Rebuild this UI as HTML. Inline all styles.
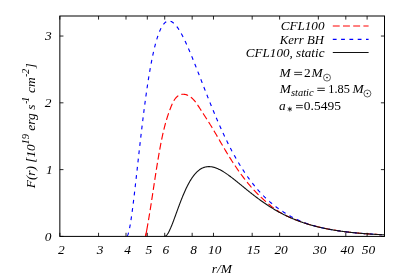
<!DOCTYPE html>
<html><head><meta charset="utf-8"><title>F(r) vs r/M</title>
<style>
html,body{margin:0;padding:0;background:#fff;}
body{width:399px;height:279px;overflow:hidden;position:relative;font-family:"Liberation Serif",serif;}
</style></head><body>
<div style="position:absolute;left:0;top:0;width:399px;height:279px;will-change:transform">
<svg width="399" height="279" viewBox="0 0 399 279" style="position:absolute;left:0;top:0">
<rect x="0" y="0" width="399" height="279" fill="#fff"/>
<filter id="gaa" filterUnits="userSpaceOnUse" x="0" y="0" width="399" height="279"><feOffset dx="0" dy="0"/></filter>
<clipPath id="c"><rect x="59.85" y="16.0" width="324.65" height="220.4"/></clipPath>
<g clip-path="url(#c)" fill="none" stroke-linejoin="round">
<path d="M145.75,236.40 L145.75,235.36 L145.87,234.77 L145.98,234.18 L146.09,233.58 L146.20,232.99 L146.32,232.40 L146.43,231.81 L146.54,231.21 L146.65,230.62 L146.76,230.03 L146.87,229.43 L146.97,228.84 L147.08,228.24 L147.19,227.65 L147.30,227.05 L147.40,226.46 L147.51,225.86 L147.61,225.27 L147.72,224.67 L147.82,224.07 L147.93,223.48 L148.03,222.88 L148.13,222.28 L148.24,221.69 L148.34,221.09 L148.44,220.49 L148.54,219.90 L148.64,219.30 L148.74,218.70 L148.84,218.10 L148.94,217.50 L149.04,216.91 L149.14,216.31 L149.24,215.71 L149.34,215.11 L149.44,214.51 L149.53,213.91 L149.63,213.31 L149.73,212.71 L149.83,212.11 L149.92,211.51 L150.02,210.91 L150.11,210.31 L150.21,209.71 L150.31,209.11 L150.40,208.51 L150.50,207.91 L150.59,207.31 L150.68,206.71 L150.78,206.11 L150.87,205.51 L150.97,204.91 L151.06,204.31 L151.15,203.71 L151.25,203.11 L151.34,202.51 L151.43,201.91 L151.52,201.30 L151.62,200.70 L151.71,200.10 L151.80,199.50 L151.89,198.90 L151.99,198.30 L152.08,197.70 L152.17,197.09 L152.26,196.49 L152.35,195.89 L152.44,195.29 L152.53,194.69 L152.63,194.08 L152.72,193.48 L152.81,192.88 L152.90,192.28 L152.99,191.68 L153.08,191.08 L153.17,190.47 L153.26,189.87 L153.35,189.27 L153.44,188.67 L153.53,188.07 L153.63,187.46 L153.72,186.86 L153.81,186.26 L153.90,185.66 L153.99,185.06 L154.08,184.46 L154.17,183.85 L154.26,183.25 L154.35,182.65 L154.45,182.05 L154.54,181.45 L154.63,180.85 L154.72,180.24 L154.81,179.64 L154.90,179.04 L154.99,178.44 L155.09,177.84 L155.18,177.24 L155.27,176.64 L155.36,176.04 L155.46,175.44 L155.55,174.84 L155.64,174.23 L155.74,173.63 L155.83,173.03 L155.92,172.43 L156.02,171.83 L156.11,171.23 L156.21,170.63 L156.30,170.03 L156.39,169.43 L156.49,168.84 L156.58,168.24 L156.68,167.64 L156.78,167.04 L156.87,166.44 L156.97,165.84 L157.07,165.24 L157.16,164.64 L157.26,164.04 L157.36,163.45 L157.46,162.85 L157.55,162.25 L157.65,161.65 L157.75,161.06 L157.85,160.46 L157.95,159.86 L158.05,159.26 L158.15,158.67 L158.25,158.07 L158.35,157.47 L158.45,156.88 L158.56,156.28 L158.66,155.69 L158.76,155.09 L158.86,154.50 L158.97,153.90 L159.07,153.31 L159.18,152.71 L159.28,152.12 L159.39,151.52 L159.49,150.93 L159.60,150.34 L159.71,149.74 L159.82,149.15 L159.92,148.56 L160.03,147.96 L160.14,147.37 L160.25,146.78 L160.36,146.19 L160.47,145.60 L160.58,145.01 L160.70,144.41 L160.81,143.82 L160.92,143.23 L161.04,142.64 L161.15,142.05 L161.27,141.46 L161.39,140.87 L161.50,140.28 L161.62,139.69 L161.74,139.10 L161.86,138.52 L161.99,137.93 L162.11,137.34 L162.23,136.75 L162.36,136.16 L162.49,135.57 L162.61,134.98 L162.74,134.40 L162.87,133.81 L163.01,133.22 L163.14,132.63 L163.28,132.04 L163.41,131.46 L163.55,130.87 L163.69,130.28 L163.83,129.69 L163.98,129.11 L164.12,128.52 L164.27,127.93 L164.42,127.34 L164.57,126.76 L164.72,126.17 L164.87,125.58 L165.03,124.99 L165.19,124.41 L165.35,123.82 L165.51,123.23 L165.67,122.64 L165.84,122.06 L166.01,121.47 L166.18,120.88 L166.35,120.29 L166.53,119.71 L166.71,119.12 L166.89,118.53 L167.07,117.94 L167.26,117.35 L167.44,116.76 L167.63,116.18 L167.83,115.59 L168.02,115.00 L168.22,114.41 L168.42,113.82 L168.62,113.23 L168.83,112.64 L169.04,112.05 L169.25,111.46 L169.46,110.87 L169.68,110.28 L169.90,109.69 L170.13,109.10 L170.35,108.51 L170.58,107.92 L170.81,107.32 L171.05,106.73 L171.29,106.14 L171.53,105.55 L171.78,104.96 L172.03,104.38 L172.29,103.80 L172.56,103.22 L172.83,102.65 L173.11,102.10 L173.40,101.55 L173.69,101.01 L174.00,100.48 L174.31,99.97 L174.64,99.47 L174.98,98.98 L175.33,98.51 L175.69,98.06 L176.07,97.63 L176.46,97.22 L176.86,96.83 L177.28,96.46 L177.71,96.12 L178.16,95.80 L178.63,95.51 L179.11,95.24 L179.62,95.01 L180.14,94.80 L180.67,94.62 L181.22,94.48 L181.77,94.37 L182.34,94.29 L182.91,94.25 L183.68,94.26 L184.26,94.31 L184.84,94.40 L185.42,94.52 L185.99,94.67 L186.56,94.85 L187.12,95.06 L187.67,95.29 L188.21,95.54 L188.74,95.82 L189.26,96.12 L189.76,96.43 L190.25,96.77 L190.73,97.12 L191.20,97.49 L191.67,97.87 L192.12,98.27 L192.56,98.69 L192.99,99.12 L193.42,99.56 L193.84,100.01 L194.25,100.48 L194.65,100.95 L195.04,101.44 L195.43,101.93 L195.82,102.43 L196.19,102.94 L196.57,103.45 L196.93,103.97 L197.30,104.50 L197.66,105.03 L198.01,105.56 L198.36,106.09 L198.71,106.62 L199.06,107.16 L199.40,107.69 L199.75,108.22 L200.09,108.75 L200.43,109.28 L200.77,109.81 L201.11,110.33 L201.44,110.85 L201.78,111.37 L202.11,111.89 L202.45,112.40 L202.78,112.92 L203.11,113.43 L203.44,113.94 L203.77,114.45 L204.10,114.96 L204.43,115.46 L204.76,115.97 L205.08,116.47 L205.41,116.98 L205.73,117.48 L206.05,117.98 L206.38,118.49 L206.70,118.99 L207.02,119.49 L207.34,119.99 L207.66,120.49 L207.98,120.99 L208.29,121.49 L208.61,121.99 L208.93,122.50 L209.24,123.00 L209.56,123.50 L209.87,124.00 L210.18,124.51 L210.50,125.01 L210.81,125.52 L211.12,126.03 L211.43,126.54 L211.74,127.05 L212.05,127.56 L212.36,128.07 L212.66,128.58 L212.97,129.10 L213.28,129.61 L213.59,130.13 L213.89,130.65 L214.20,131.16 L214.50,131.68 L214.81,132.20 L215.11,132.72 L215.42,133.24 L215.72,133.76 L216.03,134.29 L216.33,134.81 L216.64,135.33 L216.94,135.86 L217.24,136.38 L217.55,136.90 L217.85,137.43 L218.15,137.96 L218.46,138.48 L218.76,139.01 L219.07,139.53 L219.37,140.06 L219.67,140.59 L219.98,141.11 L220.28,141.64 L220.59,142.17 L220.89,142.69 L221.20,143.22 L221.50,143.75 L221.81,144.28 L222.12,144.80 L222.42,145.33 L222.73,145.86 L223.04,146.38 L223.35,146.91 L223.66,147.43 L223.97,147.96 L224.28,148.48 L224.59,149.01 L224.90,149.53 L225.21,150.06 L225.53,150.58 L225.84,151.10 L226.15,151.63 L226.47,152.15 L226.78,152.67 L227.10,153.19 L227.42,153.71 L227.73,154.23 L228.05,154.75 L228.37,155.27 L228.69,155.79 L229.01,156.31 L229.33,156.83 L229.65,157.35 L229.98,157.86 L230.30,158.38 L230.63,158.89 L230.95,159.41 L231.28,159.92 L231.60,160.44 L231.93,160.95 L232.26,161.46 L232.59,161.97 L232.92,162.48 L233.25,162.99 L233.59,163.50 L233.92,164.01 L234.26,164.52 L234.59,165.02 L234.93,165.53 L235.27,166.04 L235.61,166.54 L235.95,167.04 L236.29,167.55 L236.63,168.05 L236.97,168.55 L237.32,169.05 L237.66,169.55 L238.01,170.05 L238.36,170.54 L238.71,171.04 L239.06,171.53 L239.41,172.03 L239.76,172.52 L240.12,173.01 L240.47,173.50 L240.83,173.99 L241.19,174.48 L241.54,174.97 L241.90,175.46 L242.27,175.94 L242.63,176.43 L242.99,176.91 L243.36,177.39 L243.73,177.87 L244.09,178.35 L244.46,178.83 L244.84,179.31 L245.21,179.78 L245.58,180.26 L245.96,180.73 L246.33,181.20 L246.71,181.67 L247.09,182.14 L247.47,182.61 L247.86,183.08 L248.24,183.54 L248.63,184.01 L249.02,184.47 L249.40,184.93 L249.80,185.39 L250.19,185.85 L250.58,186.31 L250.98,186.76 L251.37,187.22 L251.77,187.67 L252.17,188.12 L252.58,188.57 L252.98,189.02 L253.39,189.46 L253.79,189.91 L254.20,190.35 L254.61,190.79 L255.02,191.23 L255.44,191.67 L255.86,192.11 L256.27,192.54 L256.69,192.98 L257.11,193.41 L257.54,193.84 L257.96,194.27 L258.39,194.69 L258.82,195.12 L259.25,195.54 L259.68,195.96 L260.12,196.38 L260.56,196.80 L260.99,197.21 L261.43,197.63 L261.88,198.04 L262.32,198.45 L262.77,198.86 L263.22,199.27 L263.67,199.69 L264.12,200.10 L264.58,200.51 L265.03,200.92 L265.49,201.33 L265.95,201.73 L266.42,202.14 L266.88,202.55 L267.35,202.95 L267.82,203.35 L268.29,203.75 L268.76,204.14 L269.24,204.54 L269.72,204.93 L270.20,205.32 L270.68,205.71 L271.17,206.09 L271.65,206.47 L272.14,206.85 L272.64,207.22 L273.13,207.59 L273.63,207.96 L274.13,208.32 L274.63,208.68 L275.13,209.04 L275.64,209.39 L276.14,209.74 L276.66,210.09 L277.17,210.43 L277.68,210.77 L278.20,211.10 L278.77,211.88 L279.21,212.12 L279.65,212.36 L280.09,212.59 L280.53,212.82 L280.97,213.06 L281.41,213.29 L281.85,213.51 L282.29,213.74 L282.73,213.96 L283.16,214.19 L283.60,214.41 L284.04,214.63 L284.48,214.84 L284.92,215.06 L285.36,215.27 L285.80,215.48 L286.24,215.69 L286.68,215.90 L287.12,216.11 L287.56,216.31 L288.00,216.52 L288.44,216.72 L288.88,216.92 L289.32,217.12 L289.76,217.32 L290.20,217.51 L290.64,217.70 L291.08,217.90 L291.52,218.09 L291.96,218.27 L292.40,218.46 L292.84,218.65 L293.28,218.83 L293.72,219.01 L294.16,219.19 L294.60,219.37 L295.04,219.55 L295.48,219.72 L295.92,219.90 L296.36,220.07 L296.80,220.24 L297.24,220.41 L297.68,220.58 L298.12,220.75 L298.56,220.91 L298.99,221.08 L299.43,221.24 L299.87,221.40 L300.39,221.59 L300.90,221.77 L301.41,221.95 L301.93,222.13 L302.44,222.31 L302.95,222.49 L303.47,222.66 L303.98,222.83 L304.49,223.00 L305.00,223.17 L305.52,223.34 L306.03,223.50 L306.54,223.67 L307.06,223.83 L307.57,223.99 L308.08,224.14 L308.60,224.30 L309.11,224.45 L309.62,224.61 L310.13,224.76 L310.65,224.90 L311.16,225.05 L311.67,225.20 L312.19,225.34 L312.70,225.48 L313.21,225.62 L313.73,225.76 L314.24,225.90 L314.75,226.03 L315.26,226.17 L315.78,226.30 L316.29,226.43 L316.80,226.56 L317.32,226.69 L317.83,226.81 L318.34,226.94 L318.86,227.06 L319.37,227.18 L319.88,227.30 L320.39,227.42 L320.91,227.54 L321.42,227.65 L321.93,227.77 L322.45,227.88 L322.96,227.99 L323.47,228.10 L323.99,228.21 L324.50,228.32 L325.01,228.43 L325.52,228.53 L326.04,228.63 L326.55,228.74 L327.06,228.84 L327.58,228.94 L328.09,229.04 L328.60,229.14 L329.12,229.23 L329.63,229.33 L330.14,229.42 L330.65,229.51 L331.17,229.61 L331.68,229.70 L332.19,229.79 L332.71,229.87 L333.22,229.96 L333.81,230.06 L334.39,230.16 L334.98,230.25 L335.56,230.35 L336.15,230.44 L336.74,230.53 L337.32,230.62 L337.91,230.71 L338.50,230.80 L339.08,230.88 L339.67,230.97 L340.25,231.05 L340.84,231.14 L341.43,231.22 L342.01,231.30 L342.60,231.38 L343.19,231.45 L343.77,231.53 L344.36,231.61 L344.95,231.68 L345.53,231.75 L346.12,231.83 L346.70,231.90 L347.29,231.97 L347.88,232.04 L348.46,232.11 L349.05,232.17 L349.64,232.24 L350.22,232.30 L350.81,232.37 L351.39,232.43 L351.98,232.49 L352.57,232.56 L353.15,232.62 L353.74,232.68 L354.33,232.73 L354.91,232.79 L355.50,232.85 L356.08,232.91 L356.67,232.96 L357.26,233.01 L357.84,233.07 L358.43,233.12 L359.02,233.17 L359.60,233.22 L360.19,233.27 L360.78,233.32 L361.36,233.37 L361.95,233.42 L362.53,233.47 L363.12,233.52 L363.71,233.56 L364.29,233.61 L364.88,233.65 L365.47,233.70 L366.05,233.74 L366.64,233.78 L367.22,233.82 L367.81,233.86 L368.40,233.90 L368.98,233.94 L369.57,233.98 L370.16,234.02 L370.74,234.06 L371.33,234.10 L371.91,234.14 L372.50,234.17 L373.09,234.21 L373.67,234.24 L374.26,234.28 L374.85,234.31 L375.43,234.35 L376.02,234.38 L376.60,234.41 L377.19,234.44 L377.78,234.48 L378.36,234.51 L378.95,234.54 L379.54,234.57 L380.12,234.60 L380.71,234.63 L381.30,234.65 L381.88,234.68 L382.47,234.71 L383.05,234.74 L383.64,234.77 L384.23,234.79 L384.30,234.80" stroke="#ff0000" stroke-width="1.15" stroke-dasharray="6.9 3.3" stroke-dashoffset="3.9"/>
<path d="M145.75,236.40 L145.75,235.36 L145.87,234.77 L145.98,234.18 L146.09,233.58 L146.20,232.99 L146.32,232.40 L146.43,231.81 L146.54,231.21 L146.65,230.62 L146.72,230.22" stroke="#ff0000" stroke-width="1.15"/>
<path d="M126.58,236.40 L127.00,236.20 L127.35,235.77 L127.61,235.30 L127.86,234.71 L128.04,234.25 L128.21,233.75 L128.38,233.19 L128.55,232.59 L128.72,231.95 L128.89,231.26 L129.07,230.53 L129.24,229.75 L129.41,228.94 L129.58,228.10 L129.75,227.21 L129.93,226.29 L130.10,225.34 L130.27,224.36 L130.44,223.34 L130.53,222.82 L130.61,222.29 L130.70,221.76 L130.78,221.22 L130.87,220.67 L130.96,220.12 L131.04,219.55 L131.13,218.99 L131.21,218.41 L131.30,217.83 L131.39,217.24 L131.47,216.65 L131.56,216.05 L131.64,215.45 L131.73,214.84 L131.82,214.22 L131.90,213.60 L131.99,212.97 L132.07,212.34 L132.16,211.71 L132.24,211.06 L132.33,210.42 L132.42,209.77 L132.50,209.11 L132.59,208.45 L132.67,207.79 L132.76,207.12 L132.85,206.44 L132.93,205.77 L133.02,205.09 L133.10,204.40 L133.19,203.71 L133.28,203.02 L133.36,202.32 L133.45,201.62 L133.53,200.92 L133.62,200.22 L133.71,199.51 L133.79,198.79 L133.88,198.08 L133.96,197.36 L134.05,196.64 L134.13,195.92 L134.22,195.19 L134.31,194.46 L134.39,193.73 L134.48,192.99 L134.56,192.26 L134.65,191.52 L134.74,190.78 L134.82,190.04 L134.91,189.29 L134.99,188.55 L135.08,187.80 L135.17,187.05 L135.25,186.29 L135.34,185.54 L135.42,184.79 L135.51,184.03 L135.60,183.27 L135.68,182.51 L135.77,181.75 L135.85,180.99 L135.94,180.23 L136.02,179.46 L136.11,178.70 L136.20,177.93 L136.28,177.16 L136.37,176.40 L136.45,175.63 L136.54,174.86 L136.63,174.09 L136.71,173.32 L136.80,172.55 L136.88,171.78 L136.97,171.00 L137.06,170.23 L137.14,169.46 L137.23,168.69 L137.31,167.91 L137.40,167.14 L137.49,166.37 L137.57,165.60 L137.66,164.82 L137.74,164.05 L137.83,163.28 L137.91,162.50 L138.00,161.73 L138.09,160.96 L138.17,160.19 L138.26,159.41 L138.34,158.64 L138.43,157.87 L138.52,157.10 L138.60,156.33 L138.69,155.56 L138.77,154.79 L138.86,154.03 L138.95,153.26 L139.03,152.49 L139.12,151.73 L139.20,150.96 L139.29,150.20 L139.37,149.43 L139.46,148.67 L139.55,147.91 L139.63,147.15 L139.72,146.39 L139.80,145.63 L139.89,144.88 L139.98,144.12 L140.06,143.37 L140.15,142.61 L140.23,141.86 L140.32,141.11 L140.41,140.36 L140.49,139.61 L140.58,138.86 L140.66,138.12 L140.75,137.37 L140.84,136.63 L140.92,135.89 L141.01,135.15 L141.09,134.41 L141.18,133.68 L141.26,132.94 L141.35,132.21 L141.44,131.47 L141.52,130.74 L141.61,130.02 L141.69,129.29 L141.78,128.56 L141.87,127.84 L141.95,127.12 L142.04,126.40 L142.12,125.68 L142.21,124.97 L142.30,124.25 L142.38,123.54 L142.47,122.83 L142.55,122.12 L142.64,121.42 L142.73,120.71 L142.81,120.01 L142.90,119.31 L142.98,118.61 L143.07,117.92 L143.15,117.22 L143.24,116.53 L143.33,115.84 L143.41,115.15 L143.50,114.47 L143.58,113.79 L143.67,113.10 L143.76,112.43 L143.84,111.75 L143.93,111.08 L144.01,110.40 L144.10,109.73 L144.19,109.07 L144.27,108.40 L144.36,107.74 L144.44,107.08 L144.53,106.42 L144.62,105.76 L144.70,105.11 L144.79,104.46 L144.87,103.81 L144.96,103.16 L145.04,102.52 L145.13,101.88 L145.22,101.24 L145.30,100.60 L145.39,99.97 L145.47,99.34 L145.56,98.71 L145.65,98.08 L145.73,97.46 L145.82,96.84 L145.90,96.22 L145.99,95.60 L146.08,94.99 L146.16,94.37 L146.25,93.76 L146.33,93.16 L146.42,92.55 L146.50,91.95 L146.59,91.35 L146.68,90.76 L146.76,90.16 L146.85,89.57 L146.93,88.99 L147.02,88.40 L147.11,87.82 L147.19,87.24 L147.28,86.66 L147.36,86.08 L147.45,85.51 L147.54,84.94 L147.62,84.37 L147.71,83.81 L147.79,83.25 L147.88,82.69 L147.97,82.13 L148.05,81.58 L148.14,81.03 L148.22,80.48 L148.31,79.93 L148.39,79.39 L148.48,78.85 L148.57,78.31 L148.65,77.78 L148.74,77.24 L148.82,76.71 L148.91,76.19 L149.00,75.66 L149.08,75.14 L149.17,74.62 L149.25,74.11 L149.43,73.08 L149.60,72.07 L149.77,71.07 L149.94,70.08 L150.11,69.09 L150.28,68.13 L150.46,67.17 L150.63,66.22 L150.80,65.28 L150.97,64.36 L151.14,63.44 L151.32,62.54 L151.49,61.64 L151.66,60.76 L151.83,59.89 L152.00,59.03 L152.17,58.18 L152.35,57.34 L152.52,56.51 L152.69,55.70 L152.86,54.89 L153.03,54.09 L153.21,53.31 L153.38,52.53 L153.55,51.77 L153.72,51.02 L153.89,50.27 L154.06,49.54 L154.24,48.82 L154.41,48.11 L154.58,47.41 L154.75,46.72 L154.92,46.04 L155.10,45.37 L155.27,44.71 L155.44,44.06 L155.61,43.42 L155.78,42.79 L155.95,42.17 L156.13,41.56 L156.30,40.97 L156.47,40.38 L156.64,39.80 L156.81,39.23 L156.99,38.67 L157.16,38.12 L157.33,37.58 L157.50,37.05 L157.67,36.54 L157.84,36.03 L158.02,35.52 L158.19,35.03 L158.36,34.55 L158.53,34.08 L158.70,33.62 L158.88,33.17 L159.05,32.72 L159.22,32.29 L159.48,31.65 L159.73,31.04 L159.99,30.45 L160.25,29.87 L160.51,29.32 L160.76,28.78 L161.02,28.27 L161.28,27.78 L161.54,27.30 L161.80,26.84 L162.05,26.41 L162.31,25.99 L162.57,25.59 L162.83,25.20 L163.08,24.84 L163.34,24.49 L163.69,24.06 L164.03,23.65 L164.37,23.28 L164.72,22.94 L165.06,22.63 L165.40,22.34 L165.83,22.03 L166.26,21.76 L166.69,21.53 L167.12,21.34 L167.64,21.18 L168.15,21.07 L168.75,21.01 L169.36,21.03 L169.96,21.12 L170.47,21.26 L170.99,21.44 L171.42,21.63 L171.85,21.85 L172.28,22.11 L172.71,22.40 L173.14,22.72 L173.48,22.99 L173.82,23.29 L174.17,23.60 L174.51,23.93 L174.85,24.28 L175.20,24.65 L175.54,25.03 L175.88,25.43 L176.23,25.85 L176.57,26.28 L176.91,26.72 L177.17,27.07 L177.43,27.42 L177.69,27.78 L177.95,28.15 L178.20,28.53 L178.46,28.92 L178.72,29.31 L178.98,29.71 L179.23,30.12 L179.49,30.53 L179.75,30.96 L180.01,31.39 L180.27,31.82 L180.52,32.27 L180.78,32.71 L181.04,33.17 L181.30,33.63 L181.55,34.10 L181.81,34.58 L182.07,35.06 L182.33,35.54 L182.58,36.03 L182.84,36.53 L183.10,37.03 L183.36,37.54 L183.62,38.06 L183.87,38.57 L184.13,39.10 L184.39,39.63 L184.65,40.16 L184.90,40.70 L185.16,41.24 L185.42,41.79 L185.68,42.34 L185.93,42.90 L186.19,43.46 L186.45,44.02 L186.71,44.59 L186.97,45.16 L187.22,45.73 L187.48,46.31 L187.74,46.90 L188.00,47.48 L188.25,48.07 L188.51,48.67 L188.77,49.26 L189.03,49.86 L189.28,50.46 L189.54,51.07 L189.80,51.68 L190.06,52.29 L190.32,52.90 L190.57,53.52 L190.83,54.14 L191.09,54.76 L191.35,55.38 L191.60,56.01 L191.86,56.63 L192.12,57.27 L192.38,57.90 L192.64,58.53 L192.89,59.17 L193.15,59.81 L193.41,60.44 L193.67,61.09 L193.84,61.51 L194.01,61.94 L194.18,62.37 L194.35,62.80 L194.53,63.24 L194.70,63.67 L194.87,64.10 L195.04,64.53 L195.21,64.97 L195.38,65.40 L195.56,65.83 L195.73,66.27 L195.90,66.70 L196.07,67.14 L196.24,67.58 L196.41,68.01 L196.59,68.45 L196.76,68.89 L196.93,69.33 L197.10,69.76 L197.27,70.20 L197.45,70.64 L197.62,71.08 L197.79,71.52 L197.96,71.96 L198.13,72.40 L198.30,72.84 L198.48,73.28 L198.65,73.72 L198.82,74.16 L198.99,74.61 L199.16,75.05 L199.34,75.49 L199.51,75.93 L199.68,76.37 L199.85,76.81 L200.02,77.26 L200.19,77.70 L200.37,78.14 L200.54,78.58 L200.71,79.02 L200.88,79.47 L201.05,79.91 L201.23,80.35 L201.40,80.79 L201.57,81.24 L201.74,81.68 L201.91,82.12 L202.08,82.56 L202.26,83.00 L202.43,83.44 L202.60,83.89 L202.77,84.33 L202.94,84.77 L203.12,85.21 L203.29,85.65 L203.46,86.09 L203.63,86.53 L203.80,86.97 L203.97,87.41 L204.15,87.85 L204.32,88.29 L204.49,88.73 L204.66,89.17 L204.83,89.61 L205.01,90.05 L205.18,90.49 L205.35,90.93 L205.52,91.37 L205.69,91.80 L205.86,92.24 L206.04,92.68 L206.21,93.11 L206.38,93.55 L206.55,93.99 L206.72,94.42 L206.90,94.86 L207.07,95.29 L207.24,95.73 L207.41,96.16 L207.58,96.59 L207.75,97.03 L207.93,97.46 L208.10,97.89 L208.27,98.32 L208.44,98.75 L208.61,99.19 L208.79,99.62 L208.96,100.05 L209.13,100.47 L209.30,100.90 L209.47,101.33 L209.73,101.97 L209.99,102.61 L210.25,103.25 L210.50,103.89 L210.76,104.53 L211.02,105.16 L211.28,105.80 L211.53,106.43 L211.79,107.06 L212.05,107.69 L212.31,108.32 L212.56,108.95 L212.82,109.57 L213.08,110.20 L213.34,110.82 L213.60,111.44 L213.85,112.06 L214.11,112.68 L214.37,113.29 L214.63,113.91 L214.88,114.52 L215.14,115.13 L215.40,115.74 L215.66,116.35 L215.92,116.96 L216.17,117.57 L216.43,118.17 L216.69,118.77 L216.95,119.37 L217.20,119.97 L217.46,120.57 L217.72,121.16 L217.98,121.75 L218.23,122.35 L218.49,122.93 L218.75,123.52 L219.01,124.11 L219.27,124.69 L219.52,125.27 L219.78,125.86 L220.04,126.43 L220.30,127.01 L220.55,127.59 L220.81,128.16 L221.07,128.73 L221.33,129.30 L221.58,129.87 L221.84,130.43 L222.10,130.99 L222.36,131.56 L222.62,132.12 L222.87,132.67 L223.13,133.23 L223.39,133.78 L223.65,134.33 L223.90,134.88 L224.16,135.43 L224.42,135.98 L224.68,136.52 L224.93,137.06 L225.19,137.60 L225.45,138.14 L225.71,138.67 L225.97,139.21 L226.22,139.74 L226.48,140.27 L226.74,140.80 L227.00,141.32 L227.25,141.85 L227.51,142.37 L227.77,142.89 L228.03,143.40 L228.29,143.92 L228.54,144.43 L228.80,144.94 L229.06,145.45 L229.32,145.96 L229.57,146.46 L229.83,146.97 L230.09,147.47 L230.35,147.97 L230.60,148.46 L230.86,148.96 L231.12,149.45 L231.38,149.94 L231.64,150.43 L231.89,150.92 L232.15,151.40 L232.41,151.88 L232.67,152.36 L232.92,152.84 L233.18,153.32 L233.44,153.79 L233.70,154.26 L233.95,154.73 L234.21,155.20 L234.47,155.67 L234.73,156.13 L234.99,156.59 L235.24,157.05 L235.50,157.51 L235.76,157.96 L236.02,158.42 L236.27,158.87 L236.53,159.32 L236.79,159.76 L237.05,160.21 L237.30,160.65 L237.56,161.09 L237.82,161.53 L238.08,161.97 L238.34,162.40 L238.59,162.84 L238.85,163.27 L239.11,163.70 L239.37,164.12 L239.62,164.55 L239.88,164.97 L240.14,165.39 L240.40,165.81 L240.66,166.23 L240.91,166.64 L241.17,167.06 L241.43,167.47 L241.69,167.88 L241.94,168.28 L242.20,168.69 L242.46,169.09 L242.72,169.49 L242.97,169.89 L243.23,170.29 L243.49,170.68 L243.75,171.08 L244.01,171.47 L244.26,171.86 L244.52,172.25 L244.78,172.63 L245.04,173.01 L245.29,173.40 L245.55,173.78 L245.81,174.15 L246.07,174.53 L246.32,174.90 L246.58,175.28 L246.84,175.65 L247.10,176.01 L247.36,176.38 L247.61,176.75 L247.87,177.11 L248.13,177.47 L248.39,177.83 L248.64,178.18 L248.90,178.54 L249.16,178.89 L249.42,179.25 L249.68,179.59 L249.93,179.94 L250.19,180.29 L250.45,180.63 L250.71,180.98 L251.05,181.43 L251.39,181.88 L251.74,182.33 L252.08,182.77 L252.42,183.21 L252.77,183.65 L253.11,184.09 L253.45,184.52 L253.80,184.95 L254.14,185.37 L254.49,185.80 L254.83,186.22 L255.17,186.63 L255.52,187.05 L255.86,187.46 L256.20,187.86 L256.55,188.27 L256.89,188.67 L257.23,189.07 L257.58,189.46 L257.92,189.86 L258.27,190.25 L258.61,190.63 L258.95,191.02 L259.30,191.40 L259.64,191.78 L259.98,192.15 L260.33,192.53 L260.67,192.90 L261.01,193.27 L261.36,193.63 L261.70,193.99 L262.05,194.35 L262.39,194.71 L262.73,195.06 L263.08,195.41 L263.42,195.76 L263.76,196.11 L264.11,196.45 L264.45,196.79 L264.79,197.13 L265.14,197.46 L265.48,197.80 L265.82,198.13 L266.17,198.46 L266.51,198.78 L266.86,199.10 L267.20,199.42 L267.54,199.74 L267.89,200.06 L268.23,200.37 L268.57,200.68 L268.92,200.99 L269.26,201.29 L269.60,201.60 L269.95,201.90 L270.29,202.20 L270.64,202.49 L270.98,202.79 L271.32,203.08 L271.67,203.37 L272.01,203.65 L272.35,203.94 L272.70,204.22 L273.04,204.50 L273.38,204.78 L273.73,205.05 L274.07,205.33 L274.42,205.60 L274.76,205.87 L275.10,206.13 L275.45,206.40 L275.79,206.66 L276.13,206.92 L276.48,207.18 L276.82,207.44 L277.25,207.75 L277.68,208.07 L278.11,208.38 L278.54,208.69 L278.97,208.99 L279.40,209.30 L279.83,209.59 L280.26,209.89 L280.69,210.18 L281.12,210.47 L281.55,210.76 L281.97,211.04 L282.40,211.32 L282.83,211.60 L283.26,211.88 L283.69,212.15 L284.12,212.42 L284.55,212.69 L284.98,212.95 L285.41,213.21 L285.84,213.47 L286.27,213.73 L286.70,213.99 L287.13,214.24 L287.56,214.50 L287.99,214.75 L288.42,215.00 L288.85,215.25 L289.28,215.50 L289.71,215.74 L290.14,215.98 L290.57,216.22 L290.99,216.46 L291.42,216.69 L291.85,216.93 L292.28,217.16 L292.71,217.39 L293.14,217.61 L293.57,217.84 L294.00,218.06 L294.43,218.28 L294.86,218.49 L295.29,218.70 L295.72,218.92 L296.15,219.12 L296.58,219.33 L297.01,219.53 L297.44,219.74 L297.87,219.94 L298.30,220.13 L298.73,220.33 L299.16,220.52 L299.59,220.71 L300.01,220.89 L300.44,221.08 L300.87,221.26 L301.30,221.44 L301.73,221.62 L302.16,221.79 L302.59,221.96 L303.11,222.17 L303.62,222.37 L304.14,222.57 L304.65,222.76 L305.17,222.95 L305.68,223.14 L306.20,223.32 L306.72,223.51 L307.23,223.69 L307.75,223.86 L308.26,224.04 L308.78,224.21 L309.29,224.37 L309.81,224.54 L310.32,224.70 L310.84,224.86 L311.35,225.02 L311.87,225.17 L312.38,225.33 L312.90,225.48 L313.42,225.62 L313.93,225.77 L314.45,225.91 L314.96,226.05 L315.48,226.19 L315.99,226.33 L316.51,226.46 L317.02,226.60 L317.54,226.73 L318.05,226.85 L318.57,226.98 L319.09,227.11 L319.60,227.23 L320.12,227.35 L320.63,227.47 L321.15,227.59 L321.66,227.71 L322.18,227.82 L322.69,227.93 L323.21,228.05 L323.72,228.16 L324.24,228.27 L324.75,228.37 L325.27,228.48 L325.79,228.58 L326.30,228.69 L326.82,228.79 L327.33,228.89 L327.85,228.99 L328.36,229.09 L328.88,229.19 L329.39,229.28 L329.91,229.38 L330.42,229.47 L330.94,229.57 L331.46,229.66 L331.97,229.75 L332.49,229.84 L333.00,229.92 L333.52,230.01 L334.03,230.10 L334.55,230.18 L335.15,230.28 L335.75,230.38 L336.35,230.47 L336.95,230.56 L337.55,230.66 L338.16,230.75 L338.76,230.84 L339.36,230.92 L339.96,231.01 L340.56,231.10 L341.16,231.18 L341.76,231.26 L342.36,231.34 L342.97,231.43 L343.57,231.50 L344.17,231.58 L344.77,231.66 L345.37,231.73 L345.97,231.81 L346.57,231.88 L347.18,231.96 L347.78,232.03 L348.38,232.10 L348.98,232.17 L349.58,232.23 L350.18,232.30 L350.78,232.37 L351.38,232.43 L351.99,232.50 L352.59,232.56 L353.19,232.62 L353.79,232.68 L354.39,232.74 L354.99,232.80 L355.59,232.86 L356.20,232.92 L356.80,232.97 L357.40,233.03 L358.00,233.08 L358.60,233.14 L359.20,233.19 L359.80,233.24 L360.40,233.29 L361.01,233.34 L361.61,233.39 L362.21,233.44 L362.81,233.49 L363.41,233.54 L364.01,233.59 L364.61,233.63 L365.22,233.68 L365.82,233.72 L366.42,233.76 L367.02,233.81 L367.62,233.85 L368.22,233.89 L368.82,233.93 L369.42,233.97 L370.03,234.01 L370.63,234.05 L371.23,234.09 L371.83,234.13 L372.43,234.17 L373.03,234.20 L373.63,234.24 L374.24,234.28 L374.84,234.31 L375.44,234.35 L376.04,234.38 L376.64,234.41 L377.24,234.45 L377.84,234.48 L378.44,234.51 L379.05,234.54 L379.65,234.57 L380.25,234.60 L380.85,234.63 L381.45,234.66 L382.05,234.69 L382.65,234.72 L383.26,234.75 L383.86,234.78 L384.20,234.79" stroke="#0000ff" stroke-width="1.15" stroke-dasharray="3.8 4.5" stroke-dashoffset="7.7"/>
<path d="M164.51,236.40 L165.10,236.30 L165.54,236.09 L165.91,235.84 L166.27,235.53 L166.64,235.15 L166.93,234.81 L167.23,234.43 L167.52,234.02 L167.81,233.58 L168.11,233.11 L168.40,232.61 L168.62,232.21 L168.84,231.81 L169.06,231.39 L169.28,230.95 L169.50,230.51 L169.72,230.05 L169.94,229.58 L170.16,229.10 L170.38,228.61 L170.60,228.11 L170.82,227.60 L171.04,227.09 L171.26,226.56 L171.48,226.03 L171.70,225.49 L171.92,224.94 L172.14,224.39 L172.36,223.83 L172.58,223.27 L172.80,222.70 L173.02,222.12 L173.24,221.54 L173.46,220.96 L173.68,220.37 L173.90,219.78 L174.11,219.19 L174.33,218.59 L174.55,218.00 L174.77,217.40 L174.99,216.80 L175.21,216.19 L175.43,215.59 L175.65,214.98 L175.87,214.38 L176.09,213.77 L176.31,213.16 L176.53,212.56 L176.75,211.95 L176.97,211.34 L177.19,210.74 L177.41,210.13 L177.63,209.53 L177.85,208.93 L178.07,208.33 L178.29,207.73 L178.51,207.13 L178.73,206.53 L178.95,205.94 L179.17,205.35 L179.39,204.76 L179.61,204.17 L179.83,203.59 L180.05,203.01 L180.27,202.43 L180.49,201.86 L180.71,201.29 L180.93,200.72 L181.15,200.16 L181.37,199.59 L181.59,199.04 L181.81,198.48 L182.03,197.93 L182.25,197.39 L182.47,196.85 L182.69,196.31 L182.91,195.77 L183.13,195.25 L183.35,194.72 L183.57,194.20 L183.79,193.68 L184.01,193.17 L184.23,192.66 L184.45,192.16 L184.67,191.66 L184.89,191.17 L185.11,190.68 L185.33,190.20 L185.55,189.72 L185.77,189.25 L185.99,188.78 L186.21,188.31 L186.43,187.86 L186.65,187.40 L186.87,186.95 L187.09,186.51 L187.31,186.07 L187.53,185.64 L187.75,185.21 L187.97,184.79 L188.19,184.37 L188.41,183.96 L188.63,183.55 L188.85,183.15 L189.07,182.75 L189.29,182.36 L189.51,181.97 L189.72,181.59 L190.02,181.09 L190.31,180.60 L190.60,180.12 L190.90,179.64 L191.19,179.18 L191.48,178.73 L191.78,178.28 L192.07,177.85 L192.36,177.42 L192.66,177.00 L192.95,176.60 L193.24,176.20 L193.54,175.81 L193.83,175.43 L194.12,175.06 L194.42,174.70 L194.71,174.34 L195.00,174.00 L195.29,173.66 L195.59,173.33 L195.88,173.02 L196.17,172.71 L196.54,172.33 L196.91,171.97 L197.27,171.62 L197.64,171.29 L198.01,170.97 L198.37,170.66 L198.74,170.36 L199.11,170.07 L199.47,169.80 L199.84,169.54 L200.20,169.30 L200.57,169.06 L201.01,168.79 L201.45,168.54 L201.89,168.31 L202.33,168.09 L202.77,167.89 L203.21,167.71 L203.65,167.54 L204.16,167.36 L204.68,167.20 L205.19,167.06 L205.70,166.94 L206.21,166.84 L206.80,166.75 L207.39,166.68 L207.97,166.63 L208.56,166.61 L209.22,166.61 L209.81,166.63 L210.39,166.68 L210.98,166.74 L211.56,166.82 L212.08,166.91 L212.59,167.01 L213.10,167.12 L213.62,167.25 L214.13,167.39 L214.64,167.55 L215.16,167.71 L215.67,167.89 L216.11,168.05 L216.55,168.22 L216.99,168.39 L217.43,168.58 L217.87,168.77 L218.31,168.97 L218.75,169.18 L219.19,169.39 L219.63,169.61 L220.07,169.83 L220.51,170.07 L220.94,170.30 L221.38,170.55 L221.82,170.80 L222.26,171.05 L222.70,171.32 L223.14,171.58 L223.58,171.85 L224.02,172.13 L224.46,172.41 L224.83,172.65 L225.20,172.89 L225.56,173.13 L225.93,173.38 L226.29,173.62 L226.66,173.88 L227.03,174.13 L227.39,174.39 L227.76,174.64 L228.13,174.91 L228.49,175.17 L228.86,175.43 L229.23,175.70 L229.59,175.97 L229.96,176.24 L230.33,176.52 L230.69,176.79 L231.06,177.07 L231.42,177.35 L231.79,177.63 L232.16,177.91 L232.52,178.19 L232.89,178.48 L233.26,178.76 L233.62,179.05 L233.99,179.34 L234.36,179.63 L234.72,179.92 L235.09,180.21 L235.46,180.50 L235.82,180.79 L236.19,181.09 L236.55,181.38 L236.92,181.68 L237.29,181.97 L237.65,182.27 L238.02,182.57 L238.39,182.86 L238.75,183.16 L239.12,183.46 L239.49,183.76 L239.85,184.06 L240.22,184.36 L240.59,184.65 L240.95,184.95 L241.32,185.25 L241.68,185.55 L242.05,185.85 L242.42,186.15 L242.78,186.45 L243.15,186.75 L243.52,187.05 L243.88,187.35 L244.25,187.65 L244.62,187.95 L244.98,188.25 L245.35,188.55 L245.72,188.85 L246.08,189.14 L246.45,189.44 L246.81,189.74 L247.18,190.03 L247.55,190.33 L247.91,190.62 L248.28,190.92 L248.65,191.21 L249.01,191.51 L249.38,191.80 L249.75,192.09 L250.11,192.39 L250.48,192.68 L250.85,192.97 L251.21,193.26 L251.58,193.55 L251.94,193.83 L252.31,194.12 L252.68,194.41 L253.04,194.69 L253.41,194.98 L253.78,195.26 L254.14,195.55 L254.51,195.83 L254.88,196.11 L255.24,196.39 L255.61,196.67 L255.98,196.95 L256.34,197.22 L256.71,197.50 L257.07,197.77 L257.44,198.05 L257.81,198.32 L258.17,198.59 L258.54,198.87 L258.91,199.14 L259.27,199.40 L259.64,199.67 L260.01,199.94 L260.37,200.20 L260.74,200.47 L261.11,200.73 L261.47,200.99 L261.84,201.25 L262.21,201.51 L262.57,201.77 L262.94,202.03 L263.30,202.28 L263.67,202.54 L264.04,202.79 L264.40,203.05 L264.77,203.30 L265.14,203.55 L265.50,203.79 L265.87,204.04 L266.24,204.29 L266.60,204.53 L266.97,204.78 L267.34,205.02 L267.70,205.26 L268.07,205.50 L268.43,205.74 L268.80,205.97 L269.17,206.21 L269.53,206.45 L269.97,206.72 L270.41,207.00 L270.85,207.28 L271.29,207.55 L271.73,207.83 L272.17,208.10 L272.61,208.36 L273.05,208.63 L273.49,208.90 L273.93,209.16 L274.37,209.42 L274.81,209.68 L275.25,209.94 L275.69,210.19 L276.13,210.44 L276.57,210.70 L277.01,210.95 L277.45,211.19 L277.89,211.44 L278.33,211.68 L278.77,211.93 L279.21,212.17 L279.65,212.40 L280.09,212.64 L280.53,212.88 L280.97,213.11 L281.41,213.34 L281.85,213.57 L282.29,213.80 L282.73,214.02 L283.16,214.25 L283.60,214.47 L284.04,214.69 L284.48,214.91 L284.92,215.12 L285.36,215.34 L285.80,215.55 L286.24,215.76 L286.68,215.97 L287.12,216.18 L287.56,216.38 L288.00,216.59 L288.44,216.79 L288.88,216.99 L289.32,217.19 L289.76,217.39 L290.20,217.58 L290.64,217.78 L291.08,217.97 L291.52,218.16 L291.96,218.35 L292.40,218.54 L292.84,218.72 L293.28,218.91 L293.72,219.09 L294.16,219.27 L294.60,219.45 L295.04,219.63 L295.48,219.80 L295.92,219.98 L296.36,220.15 L296.80,220.32 L297.24,220.49 L297.68,220.66 L298.12,220.82 L298.56,220.99 L298.99,221.15 L299.43,221.31 L299.87,221.47 L300.39,221.66 L300.90,221.84 L301.41,222.02 L301.93,222.20 L302.44,222.38 L302.95,222.56 L303.47,222.73 L303.98,222.90 L304.49,223.07 L305.00,223.24 L305.52,223.40 L306.03,223.57 L306.54,223.73 L307.06,223.89 L307.57,224.05 L308.08,224.20 L308.60,224.36 L309.11,224.51 L309.62,224.66 L310.13,224.81 L310.65,224.96 L311.16,225.11 L311.67,225.25 L312.19,225.39 L312.70,225.54 L313.21,225.68 L313.73,225.81 L314.24,225.95 L314.75,226.08 L315.26,226.22 L315.78,226.35 L316.29,226.48 L316.80,226.61 L317.32,226.73 L317.83,226.86 L318.34,226.98 L318.86,227.11 L319.37,227.23 L319.88,227.35 L320.39,227.47 L320.91,227.58 L321.42,227.70 L321.93,227.81 L322.45,227.92 L322.96,228.04 L323.47,228.15 L323.99,228.25 L324.50,228.36 L325.01,228.47 L325.52,228.57 L326.04,228.67 L326.55,228.78 L327.06,228.88 L327.58,228.98 L328.09,229.08 L328.60,229.17 L329.12,229.27 L329.63,229.36 L330.14,229.46 L330.65,229.55 L331.17,229.64 L331.68,229.73 L332.19,229.82 L332.71,229.91 L333.29,230.01 L333.88,230.11 L334.47,230.20 L335.05,230.30 L335.64,230.39 L336.22,230.48 L336.81,230.57 L337.40,230.66 L337.98,230.75 L338.57,230.84 L339.16,230.92 L339.74,231.01 L340.33,231.09 L340.91,231.17 L341.50,231.25 L342.09,231.33 L342.67,231.41 L343.26,231.49 L343.85,231.57 L344.43,231.64 L345.02,231.72 L345.60,231.79 L346.19,231.86 L346.78,231.93 L347.36,232.00 L347.95,232.07 L348.54,232.14 L349.12,232.20 L349.71,232.27 L350.30,232.33 L350.88,232.40 L351.47,232.46 L352.05,232.52 L352.64,232.58 L353.23,232.64 L353.81,232.70 L354.40,232.76 L354.99,232.82 L355.57,232.88 L356.16,232.93 L356.74,232.99 L357.33,233.04 L357.92,233.09 L358.50,233.15 L359.09,233.20 L359.68,233.25 L360.26,233.30 L360.85,233.35 L361.43,233.40 L362.02,233.44 L362.61,233.49 L363.19,233.54 L363.78,233.58 L364.37,233.63 L364.95,233.67 L365.54,233.72 L366.12,233.76 L366.71,233.80 L367.30,233.84 L367.88,233.88 L368.47,233.92 L369.06,233.96 L369.64,234.00 L370.23,234.04 L370.82,234.08 L371.40,234.12 L371.99,234.15 L372.57,234.19 L373.16,234.22 L373.75,234.26 L374.33,234.29 L374.92,234.33 L375.51,234.36 L376.09,234.39 L376.68,234.43 L377.26,234.46 L377.85,234.49 L378.44,234.52 L379.02,234.55 L379.61,234.58 L380.20,234.61 L380.78,234.64 L381.37,234.67 L381.95,234.70 L382.54,234.72 L383.13,234.75 L383.71,234.78 L384.30,234.80 L384.30,234.80" stroke="#111" stroke-width="1.1"/>
</g>
<g stroke="#000" stroke-width="1.0" fill="none">
<rect x="59.85" y="16.0" width="324.65" height="220.4"/>
<path stroke-width="0.85" d="M59.85,236.4 v-3.6 M59.85,16.0 v3.6"/>
<path stroke-width="0.85" d="M98.55,236.4 v-3.6 M98.55,16.0 v3.6"/>
<path stroke-width="0.85" d="M126.01,236.4 v-3.6 M126.01,16.0 v3.6"/>
<path stroke-width="0.85" d="M147.31,236.4 v-3.6 M147.31,16.0 v3.6"/>
<path stroke-width="0.85" d="M164.71,236.4 v-3.6 M164.71,16.0 v3.6"/>
<path stroke-width="0.85" d="M192.17,236.4 v-3.6 M192.17,16.0 v3.6"/>
<path stroke-width="0.85" d="M213.47,236.4 v-3.6 M213.47,16.0 v3.6"/>
<path stroke-width="0.85" d="M252.18,236.4 v-3.6 M252.18,16.0 v3.6"/>
<path stroke-width="0.85" d="M279.64,236.4 v-3.6 M279.64,16.0 v3.6"/>
<path stroke-width="0.85" d="M318.34,236.4 v-3.6 M318.34,16.0 v3.6"/>
<path stroke-width="0.85" d="M345.80,236.4 v-3.6 M345.80,16.0 v3.6"/>
<path stroke-width="0.85" d="M367.10,236.4 v-3.6 M367.10,16.0 v3.6"/>
<path stroke-width="0.85" d="M59.85,236.40 h3.6 M384.5,236.40 h-3.6"/>
<path stroke-width="0.85" d="M59.85,169.61 h3.6 M384.5,169.61 h-3.6"/>
<path stroke-width="0.85" d="M59.85,102.82 h3.6 M384.5,102.82 h-3.6"/>
<path stroke-width="0.85" d="M59.85,36.04 h3.6 M384.5,36.04 h-3.6"/>
</g>
<path d="M332.8,26 H368.6" stroke="#ff0000" stroke-width="1.15" stroke-dasharray="6.9 3.3" fill="none"/>
<path d="M332.8,39.35 H368.6" stroke="#0000ff" stroke-width="1.15" stroke-dasharray="3.8 4.5" fill="none"/>
<path d="M332.8,52.5 H368.6" stroke="#111" stroke-width="1.1" fill="none"/>
<g font-family="'Liberation Serif', serif" fill="#000" filter="url(#gaa)">
<text x="58.06" y="253.70" font-size="13.4" font-style="italic">2</text>
<text x="96.83" y="253.70" font-size="13.4" font-style="italic">3</text>
<text x="124.22" y="253.70" font-size="13.4" font-style="italic">4</text>
<text x="145.46" y="253.70" font-size="13.4" font-style="italic">5</text>
<text x="162.55" y="253.70" font-size="13.4" font-style="italic">6</text>
<text x="190.20" y="253.70" font-size="13.4" font-style="italic">8</text>
<text x="208.00" y="253.70" font-size="13.4" font-style="italic">10</text>
<text x="246.83" y="253.70" font-size="13.4" font-style="italic">15</text>
<text x="274.41" y="253.70" font-size="13.4" font-style="italic">20</text>
<text x="313.11" y="253.70" font-size="13.4" font-style="italic">30</text>
<text x="340.57" y="253.70" font-size="13.4" font-style="italic">40</text>
<text x="361.75" y="253.70" font-size="13.4" font-style="italic">50</text>
<text x="44.70" y="240.70" font-size="13.4" font-style="italic">0</text>
<text x="45.95" y="173.91" font-size="13.4" font-style="italic">1</text>
<text x="44.83" y="107.12" font-size="13.4" font-style="italic">2</text>
<text x="44.95" y="40.34" font-size="13.4" font-style="italic">3</text>
<text x="211.78" y="273.00" font-size="13.4" font-style="italic">r/M</text>
<text transform="translate(280.66,30.40) scale(0.9829,1)" font-size="13.4" font-style="italic">CFL100</text>
<text transform="translate(279.72,43.50) scale(0.9481,1)" font-size="13.4" font-style="italic">Kerr BH</text>
<text transform="translate(245.77,56.70) scale(0.9799,1)" font-size="13.4" font-style="italic">CFL100, static</text>
<text x="279.62" y="76.60" font-size="13.4" font-style="italic">M</text>
<text x="303.98" y="76.60" font-size="13.4" font-style="normal">2</text>
<text x="311.62" y="76.60" font-size="13.4" font-style="italic">M</text>
<text x="279.73" y="92.50" font-size="13.4" font-style="italic">M</text>
<text x="290.88" y="95.50" font-size="10.5" font-style="italic">static</text>
<text transform="translate(328.27,92.50) scale(0.9195,1)" font-size="13.4" font-style="normal">1.85</text>
<text x="352.43" y="92.50" font-size="13.4" font-style="italic">M</text>
<text x="279.12" y="109.70" font-size="13.4" font-style="italic">a</text>
<text transform="translate(303.80,109.70) scale(1.0070,1)" font-size="13.4" font-style="normal">0.5495</text>
<text transform="translate(35.30,188.30) rotate(-90)" font-size="13.4" font-style="italic">F(r)</text>
<text transform="translate(35.30,162.85) rotate(-90)" font-size="13.4" font-style="italic">[</text>
<text transform="translate(35.30,157.60) rotate(-90)" font-size="13.4" font-style="italic">10</text>
<text transform="translate(28.50,144.38) rotate(-90)" font-size="10.5" font-style="italic">19</text>
<text transform="translate(35.30,130.68) rotate(-90)" font-size="13.4" font-style="italic">erg</text>
<text transform="translate(35.30,109.83) rotate(-90)" font-size="13.4" font-style="italic">s</text>
<text transform="translate(28.50,104.08) rotate(-90)" font-size="10.5" font-style="italic">-</text>
<text transform="translate(28.50,101.88) rotate(-90)" font-size="10.5" font-style="italic">1</text>
<text transform="translate(35.30,92.88) rotate(-90)" font-size="13.4" font-style="italic">cm</text>
<text transform="translate(28.50,77.08) rotate(-90)" font-size="10.5" font-style="italic">-</text>
<text transform="translate(28.50,74.00) rotate(-90)" font-size="10.5" font-style="italic">2</text>
<text transform="translate(35.30,68.55) rotate(-90)" font-size="13.4" font-style="italic">]</text>
</g>
<path d="M294.2,72.35 H302.1 M294.2,74.60 H302.1" stroke="#000" stroke-width="0.8" fill="none"/>
<path d="M317.3,88.25 H324.8 M317.3,90.50 H324.8" stroke="#000" stroke-width="0.8" fill="none"/>
<path d="M296.0,105.45 H302.8 M296.0,107.70 H302.8" stroke="#000" stroke-width="0.8" fill="none"/>
<circle cx="327.0" cy="77.60" r="3.5" fill="none" stroke="#000" stroke-width="0.6"/><circle cx="327.0" cy="77.60" r="0.8" fill="#000"/>
<circle cx="367.4" cy="93.50" r="3.5" fill="none" stroke="#000" stroke-width="0.6"/><circle cx="367.4" cy="93.50" r="0.8" fill="#000"/>
<path d="M289.8,109.10 l0.00,2.40 M289.8,109.10 l-2.08,-1.20 M289.8,109.10 l2.08,-1.20 M289.8,109.10 l-0.00,-2.40 M289.8,109.10 l2.08,1.20 M289.8,109.10 l-2.08,1.20 " stroke="#000" stroke-width="0.8" fill="none"/>
</svg>
</div>
</body></html>
